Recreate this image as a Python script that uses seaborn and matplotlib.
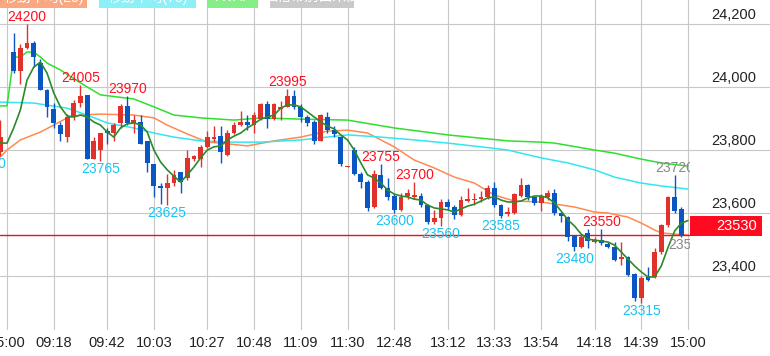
import numpy as np
import pandas as pd
import seaborn as sns
import matplotlib
matplotlib.use("Agg")
import matplotlib.pyplot as plt
from matplotlib import transforms
from matplotlib.patches import Rectangle

# ---- data (3-minute bars, slot 0 = previous 15:00, slot 1 = 09:00) ----
bar_idx = [-1] + list(range(1, 102))
opens = [23795,
         24110, 24050, 24125, 24140, 24075, 23990, 23930, 23880, 23840, 23905,
         23950, 23975, 23770, 23800, 23860, 23855, 23885, 23940, 23885, 23890,
         23830, 23755, 23685, 23680, 23695, 23730, 23710, 23770, 23770, 23810,
         23835, 23845, 23785, 23855, 23880, 23890, 23880, 23900, 23945, 23900,
         23930, 23935, 23970, 23935, 23905, 23890, 23830, 23905, 23865, 23840,
         23745, 23800, 23725, 23700, 23620, 23720, 23680, 23655, 23610, 23655,
         23650, 23655, 23625, 23570, 23585, 23635, 23620, 23595, 23638, 23640,
         23645, 23650, 23680, 23625, 23597, 23600, 23655, 23690, 23650, 23632,
         23652, 23665, 23600, 23587, 23527, 23492, 23537, 23508, 23514, 23502,
         23492, 23454, 23460, 23406, 23330, 23397, 23397, 23476, 23562, 23650,
         23613]
highs = [23895,
         24170, 24135, 24200, 24145, 24090, 23995, 23950, 23890, 23915, 23960,
         24005, 23975, 23840, 23855, 23870, 23885, 23945, 23970, 23910, 23910,
         23830, 23755, 23695, 23725, 23735, 23730, 23800, 23785, 23815, 23860,
         23875, 23875, 23865, 23890, 23925, 23910, 23920, 23950, 23955, 23950,
         23955, 23995, 23990, 23945, 23910, 23895, 23915, 23920, 23875, 23845,
         23750, 23810, 23730, 23705, 23735, 23755, 23710, 23660, 23665, 23675,
         23700, 23665, 23630, 23610, 23645, 23645, 23625, 23655, 23680, 23665,
         23670, 23690, 23700, 23630, 23620, 23665, 23710, 23692, 23652, 23660,
         23672, 23675, 23603, 23590, 23530, 23530, 23550, 23525, 23550, 23508,
         23508, 23508, 23463, 23410, 23400, 23430, 23490, 23565, 23655, 23720,
         23620]
lows = [23780,
        24045, 24010, 24120, 24065, 23990, 23905, 23870, 23830, 23825, 23895,
        23935, 23770, 23770, 23765, 23820, 23830, 23870, 23880, 23855, 23820,
        23730, 23650, 23630, 23625, 23685, 23665, 23705, 23765, 23745, 23805,
        23825, 23760, 23780, 23850, 23875, 23865, 23855, 23895, 23870, 23895,
        23895, 23935, 23930, 23890, 23875, 23820, 23830, 23855, 23840, 23750,
        23745, 23720, 23680, 23605, 23615, 23675, 23640, 23600, 23605, 23645,
        23645, 23620, 23565, 23565, 23560, 23610, 23580, 23590, 23635, 23625,
        23635, 23645, 23620, 23585, 23590, 23597, 23650, 23640, 23625, 23605,
        23640, 23595, 23570, 23510, 23480, 23490, 23490, 23505, 23500, 23490,
        23448, 23435, 23400, 23320, 23315, 23384, 23394, 23470, 23555, 23600,
        23525]
closes = [23840,
          24050, 24125, 24140, 24095, 23990, 23935, 23885, 23850, 23905, 23950,
          23970, 23770, 23830, 23855, 23855, 23880, 23940, 23885, 23895, 23820,
          23760, 23685, 23680, 23695, 23720, 23700, 23775, 23780, 23810, 23840,
          23840, 23795, 23855, 23880, 23890, 23880, 23910, 23945, 23900, 23945,
          23935, 23970, 23935, 23905, 23885, 23830, 23910, 23865, 23850, 23755,
          23750, 23725, 23700, 23615, 23725, 23680, 23650, 23610, 23650, 23665,
          23658, 23625, 23570, 23585, 23635, 23620, 23595, 23640, 23645, 23645,
          23650, 23680, 23625, 23590, 23603, 23660, 23690, 23650, 23632, 23655,
          23662, 23600, 23590, 23525, 23492, 23524, 23511, 23514, 23505, 23492,
          23451, 23460, 23403, 23330, 23394, 23387, 23476, 23562, 23650, 23606,
          23530]

# moving averages
ma5_idx = list(range(-1, 103))
ma5 = [23822, 23822, 23870, 23927, 24022, 24063, 24079, 24044, 23981, 23937, 23908,
       23905, 23911, 23905, 23889, 23879, 23857, 23841, 23870, 23883, 23886,
       23880, 23857, 23800, 23762, 23737, 23717, 23698, 23721, 23746, 23775,
       23800, 23810, 23813, 23832, 23844, 23854, 23870, 23883, 23898, 23905,
       23911, 23933, 23943, 23943, 23937, 23921, 23905, 23889, 23876, 23867,
       23848, 23832, 23800, 23759, 23721, 23711, 23695, 23673, 23660, 23654,
       23651, 23644, 23641, 23625, 23616, 23613, 23610, 23603, 23613, 23622,
       23628, 23638, 23648, 23651, 23641, 23635, 23635, 23638, 23648, 23654,
       23654, 23648, 23632, 23606, 23578, 23559, 23533, 23517, 23514, 23511,
       23508, 23498, 23476, 23454, 23432, 23413, 23397, 23397, 23432, 23490,
       23543, 23568, 23576]
ma25_idx = [-1, 0, 2, 5, 7, 9, 11, 14, 19, 22, 24, 27, 30, 32, 36, 40, 44, 48, 51,
            54, 58, 61, 64, 67, 70, 73, 76, 80, 85, 88, 90, 93, 95, 97, 98, 100, 102]
ma25 = [23778, 23800, 23832, 23857, 23879, 23902, 23911, 23914, 23911, 23902,
        23879, 23851, 23825, 23822, 23813, 23829, 23841, 23860, 23863, 23854,
        23810, 23768, 23743, 23714, 23695, 23657, 23638, 23635, 23619, 23603,
        23600, 23587, 23568, 23546, 23537, 23533, 23530]
ma75_idx = [-1, 4, 9, 12, 15, 19, 22, 25, 29, 34, 38, 44, 48, 51, 56, 61, 66, 71,
            75, 80, 84, 88, 91, 95, 98, 102]
ma75 = [23952, 23949, 23933, 23911, 23886, 23870, 23854, 23841, 23829, 23825,
        23825, 23832, 23841, 23848, 23841, 23832, 23822, 23810, 23800, 23775,
        23759, 23737, 23714, 23695, 23686, 23676]
vwap_idx = [-1, 0, 1, 2, 3, 4, 5, 6, 8, 11, 14, 19, 22, 25, 29, 34, 38, 44, 51,
            58, 66, 75, 80, 82, 88, 91, 95, 98, 102]
vwap = [23940, 23940, 24095, 24095, 24111, 24111, 24095, 24076, 24054, 24013,
        23975, 23962, 23937, 23911, 23902, 23895, 23902, 23898, 23895, 23870,
        23848, 23829, 23825, 23822, 23800, 23790, 23771, 23759, 23749]

high_marks = [(3, 24200), (11, 24005), (18, 23970), (42, 23995), (56, 23755),
              (61, 23700), (89, 23550)]
low_marks = [(-3, 23780), (14, 23765), (24, 23625), (58, 23600), (65, 23560),
             (74, 23585), (85, 23480), (95, 23315)]
live_high = (100, 23720)
live_low = (102, 23525)
last_price = 23530

tick_pos = [0, 7, 15, 22, 30, 37, 44, 51, 58, 66, 73, 80, 88, 95, 102]
tick_labels = ["15:00", "09:18", "09:42", "10:03", "10:27", "10:48", "11:09", "11:30",
               "12:48", "13:12", "13:33", "13:54", "14:18", "14:39", "15:00"]
price_ticks = [23400, 23600, 23800, 24000, 24200]
legend_names = ["移動平均(25)", "移動平均(75)", "VWAP", "価格帯別出来高"]

# ---- style ----
sns.set_style("white")
plt.rcParams['font.family'] = ['Liberation Sans', 'Noto Sans CJK JP', 'DejaVu Sans']

RED = "#e0322a"
BLUE = "#0a56c2"
GRID = "#c8c8c8"

W, H = 770, 356
fig = plt.figure(figsize=(W / 100, H / 100), dpi=100)
ax = fig.add_axes([0, 26 / H, 690 / W, 330 / H])
for s in ax.spines.values():
    s.set_visible(False)
ax.set_xlim(-1.05, 102.3)
ax.set_ylim(23228.6, 24276.2)

# grid
for p in price_ticks:
    ax.axhline(p, xmin=0, xmax=W / 690, color=GRID, lw=0.8, clip_on=False, zorder=0)
for t in tick_pos:
    ax.axvline(t, color=GRID, lw=0.8, zorder=0)

# candles
df = pd.DataFrame({"idx": bar_idx, "o": opens, "h": highs, "l": lows, "c": closes})
cols = np.where(df.c >= df.o, RED, BLUE)
ax.vlines(df.idx, df.l, df.h, colors=cols, lw=1.0, zorder=3)
body_lo = np.minimum(df.o, df.c)
body_h = np.maximum((df.c - df.o).abs(), 3)
ax.bar(df.idx, body_h, bottom=body_lo, width=0.72, color=cols, lw=0, zorder=4)

# lines
sns.lineplot(x=ma25_idx, y=ma25, ax=ax, color="#ff8a50", lw=1.1, zorder=2, legend=False)
sns.lineplot(x=ma75_idx, y=ma75, ax=ax, color="#33e6f2", lw=1.1, zorder=2, legend=False)
sns.lineplot(x=vwap_idx, y=vwap, ax=ax, color="#2ee02e", lw=1.1, zorder=2, legend=False)
sns.lineplot(x=ma5_idx, y=ma5, ax=ax, color="#2b8a2b", lw=1.2, zorder=5, legend=False)

ax.axhline(last_price, color="#e8101a", lw=1.0, zorder=2.5)

# high / low marks
up = transforms.offset_copy(ax.transData, fig=fig, y=7, units="dots")
dn = transforms.offset_copy(ax.transData, fig=fig, y=-8, units="dots")
for i, v in high_marks:
    ax.text(i, v, str(v), transform=up, ha="center", va="center", color="#ff1020",
            fontsize=10, clip_on=True, zorder=6)
for i, v in low_marks:
    ax.text(i, v, str(v), transform=dn, ha="center", va="center", color="#18c4f4",
            fontsize=10, clip_on=True, zorder=6)
ax.text(live_high[0], live_high[1], str(live_high[1]), transform=up, ha="center",
        va="center", color="#888888", fontsize=10, clip_on=True, zorder=6)
ax.text(live_low[0], live_low[1], str(live_low[1]), transform=dn, ha="center",
        va="center", color="#888888", fontsize=10, clip_on=True, zorder=6)

# axes labels
ax.set_xticks(tick_pos, tick_labels)
ax.set_yticks([])
ax.tick_params(axis="x", length=0, pad=4, labelsize=10.5, labelcolor="#222222")
ylab = transforms.offset_copy(
    transforms.blended_transform_factory(fig.transFigure, ax.transData),
    fig=fig, y=9, units="dots")
for p in price_ticks:
    ax.text(756 / W, p, f"{p:,}", transform=ylab, ha="right", va="center",
            fontsize=10.5, color="#222222", clip_on=False)

# last price box
fig.add_artist(Rectangle((690 / W, (H - 236) / H), 72 / W, 20 / H,
                         transform=fig.transFigure, color="#ff0a1e", lw=0))
fig.text(757 / W, (H - 226) / H, str(last_price), ha="right", va="center",
         color="white", fontsize=10.5)

# legend chips cut by the top edge
chips = [(0, 87, "#f9a882"), (99, 97, "#8cf0f8"), (207, 51, "#86ee86"), (270, 84, "#c9c9c9")]
for (x0, w, c), name in zip(chips, legend_names):
    fig.add_artist(Rectangle((x0 / W, (H - 7.5) / H), w / W, 20 / H,
                             transform=fig.transFigure, color=c, lw=0))
    fig.text((x0 + w / 2) / W, (H + 3) / H, name, ha="center", va="center",
             color="white", fontsize=10)

fig.savefig("out.png", dpi=100)
